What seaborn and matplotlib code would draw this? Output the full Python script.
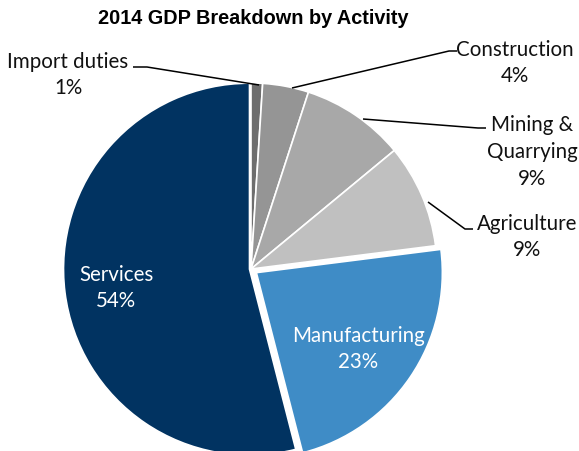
import matplotlib
matplotlib.use("Agg")
import matplotlib.pyplot as plt
import seaborn as sns

# GDP shares by activity (percent), clockwise from 12 o'clock
activities = ["Import duties", "Construction", "Mining &\nQuarrying", "Agriculture", "Manufacturing", "Services"]
shares = [1, 4, 9, 9, 23, 54]
colors = ["#6e6e6e", "#959595", "#a8a8a8", "#c0c0c0", "#3f8cc6", "#013361"]
explode_px = [0, 0, 0, 0, 6.5, 1.5]

sns.set_theme(style="white")
plt.rcParams["font.family"] = ["Lato", "DejaVu Sans"]

W, H = 579, 452
fig = plt.figure(figsize=(W / 100, H / 100), dpi=100)
ax = fig.add_axes([0, 0, 1, 1])


def py(y):
    """Convert a top-down pixel row into the axes' upward y coordinate."""
    return H - y


cx, cy, r = 251, 270, 186
ax.pie(
    shares,
    colors=colors,
    startangle=90,
    counterclock=False,
    center=(cx, py(cy)),
    radius=r,
    explode=explode_px,
    wedgeprops=dict(edgecolor="white", linewidth=1.2),
    frame=True,
)
ax.set_xlim(0, W)
ax.set_ylim(0, H)
ax.set_aspect("equal")
ax.axis("off")

label_kw = dict(ha="center", va="center", fontsize=14.8, linespacing=1.42)


def lbl(i):
    return f"{activities[i]}\n{shares[i]}%"


# outside labels
ax.text(68, py(75), lbl(0), color="#111111", **label_kw)
ax.text(515, py(63), lbl(1), color="#111111", **label_kw)
ax.text(532, py(152), lbl(2), color="#111111", **label_kw)
ax.text(527, py(237), lbl(3), color="#111111", **label_kw)
# inside labels
ax.text(358, py(349), lbl(4), color="white", **label_kw)
ax.text(116, py(288), lbl(5), color="white", **label_kw)

# leader lines
line_kw = dict(color="black", linewidth=1.1, solid_capstyle="butt")
ax.plot([133, 147, 259], [py(68), py(68), py(86)], **line_kw)
ax.plot([457, 449, 292], [py(52), py(52), py(89)], **line_kw)
ax.plot([363, 478, 486], [py(120), py(129), py(129)], **line_kw)
ax.plot([428, 465, 473], [py(203), py(230), py(230)], **line_kw)

ax.text(253, py(18), "2014 GDP Breakdown by Activity", ha="center", va="center",
        fontsize=14.3, fontweight="bold", family=["Liberation Sans", "DejaVu Sans"],
        color="black")

fig.savefig("out.png", dpi=100)
